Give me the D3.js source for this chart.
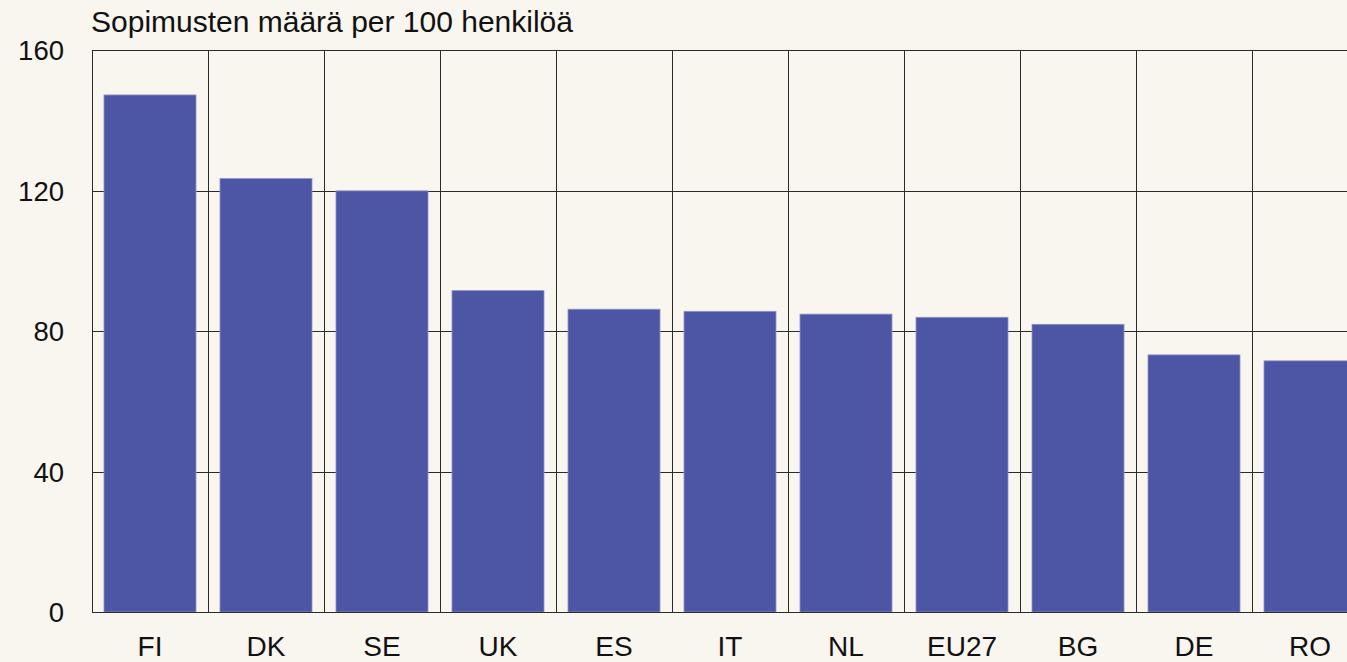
<!DOCTYPE html>
<html><head><meta charset="utf-8">
<script src="https://cdn.jsdelivr.net/npm/d3@7"></script>
<style>html,body{margin:0;padding:0;background:#f9f5ef;overflow:hidden}</style>
</head><body>
<svg id="c" width="1347" height="662"></svg>
<script>
const categories = ["FI","DK","SE","UK","ES","IT","NL","EU27","BG","DE","RO"];
const values = [147.2, 123.4, 119.9, 91.5, 86.2, 85.6, 84.8, 83.9, 81.9, 73.2, 71.5];
const yTicks = [0, 40, 80, 120, 160];
const title = "Sopimusten määrä per 100 henkilöä";

const svg = d3.select("#c");
const mLeft = 92, mTop = 50, mBottom = 612, bandW = 116;
const mRight = mLeft + categories.length * bandW;
const font = "'Liberation Sans', Arial, sans-serif";

svg.append("rect").attr("width",1347).attr("height",662).attr("fill","#f9f5ef");

const x = d3.scaleBand().domain(categories).range([mLeft, mRight]).paddingInner(0.2069).paddingOuter(0.1034);
const y = d3.scaleLinear().domain([0,160]).range([mBottom, mTop]);

// horizontal gridlines
svg.append("g").selectAll("line").data(yTicks).join("line")
  .attr("x1", mLeft).attr("x2", mRight)
  .attr("y1", d=>Math.round(y(d))+0.5).attr("y2", d=>Math.round(y(d))+0.5)
  .attr("stroke","#2b2b2b").attr("stroke-width",1);

// vertical gridlines at band boundaries
const bounds = d3.range(categories.length+1).map(i => mLeft + i*bandW);
svg.append("g").selectAll("line").data(bounds).join("line")
  .attr("x1", d=>d+0.5).attr("x2", d=>d+0.5)
  .attr("y1", mTop).attr("y2", mBottom)
  .attr("stroke","#2b2b2b").attr("stroke-width",1);

// bars
svg.append("g").selectAll("rect").data(values).join("rect")
  .attr("x",(d,i)=>x(categories[i]))
  .attr("width", x.bandwidth())
  .attr("y", d=>y(d))
  .attr("height", d=>mBottom - y(d))
  .attr("fill","#4d55a5")
  .attr("stroke","#8e93c4").attr("stroke-width",0.8);

// baseline
svg.append("line").attr("x1",mLeft).attr("x2",mRight).attr("y1",mBottom+0.5).attr("y2",mBottom+0.5)
  .attr("stroke","#2b2b2b").attr("stroke-width",1.2);

// y axis labels
const yAxis = d3.axisLeft(y).tickValues(yTicks).tickSize(0).tickPadding(0);
const gy = svg.append("g").attr("transform",`translate(64,0)`).call(yAxis);
gy.select(".domain").remove();
gy.selectAll("text").attr("font-family",font).attr("font-size",27.5).attr("fill","#111").attr("dy","0.35em");

// x axis labels
const xAxis = d3.axisBottom(x).tickSize(0).tickPadding(0);
const gx = svg.append("g").attr("transform",`translate(0,${mBottom})`).call(xAxis);
gx.select(".domain").remove();
gx.selectAll("text").attr("font-family",font).attr("font-size",28).attr("fill","#111").attr("dy",null).attr("y",44);

// title
svg.append("text").attr("x",mLeft-1).attr("y",32).attr("font-family",font).attr("font-size",30).attr("fill","#111").text(title);
</script>
</body></html>
